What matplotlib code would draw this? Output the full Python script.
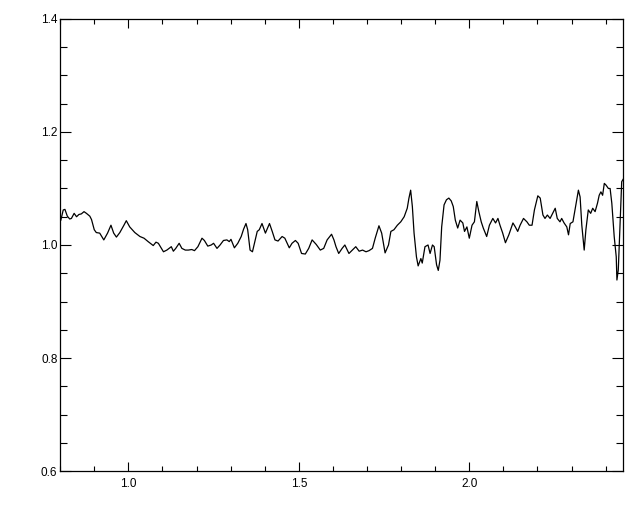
import matplotlib
matplotlib.use("Agg")
import matplotlib.pyplot as plt
from matplotlib.ticker import MultipleLocator

# wavelength (x) and normalised flux (y)
wave = [
    0.802, 0.809, 0.814, 0.821, 0.828, 0.833, 0.841, 0.848, 0.855, 0.862,
    0.870, 0.877, 0.887, 0.892, 0.900, 0.906, 0.916, 0.928, 0.939, 0.949,
    0.957, 0.965, 0.975, 0.987, 0.994, 1.004, 1.019, 1.034, 1.046, 1.058,
    1.073, 1.081, 1.088, 1.103, 1.113, 1.126, 1.132, 1.139, 1.149, 1.157,
    1.167, 1.176, 1.186, 1.194, 1.204, 1.216, 1.223, 1.233, 1.243, 1.250,
    1.260, 1.269, 1.279, 1.289, 1.296, 1.301, 1.311, 1.321, 1.331, 1.338,
    1.345, 1.350, 1.357, 1.364, 1.372, 1.378, 1.384, 1.392, 1.402, 1.414,
    1.422, 1.430, 1.439, 1.451, 1.459, 1.466, 1.472, 1.480, 1.490, 1.498,
    1.508, 1.519, 1.529, 1.539, 1.551, 1.563, 1.573, 1.583, 1.596, 1.603,
    1.609, 1.617, 1.627, 1.635, 1.647, 1.657, 1.667, 1.677, 1.687, 1.697,
    1.706, 1.716, 1.724, 1.735, 1.743, 1.753, 1.763, 1.770, 1.779, 1.789,
    1.799, 1.809, 1.818, 1.823, 1.828, 1.833, 1.838, 1.845, 1.850, 1.858,
    1.862, 1.870, 1.879, 1.885, 1.892, 1.897, 1.904, 1.909, 1.914, 1.919,
    1.926, 1.933, 1.940, 1.947, 1.953, 1.959, 1.966, 1.973, 1.981, 1.986,
    1.993, 2.000, 2.008, 2.015, 2.022, 2.028, 2.035, 2.041, 2.051, 2.059,
    2.069, 2.077, 2.084, 2.090, 2.098, 2.106, 2.116, 2.128, 2.135, 2.142,
    2.149, 2.159, 2.169, 2.176, 2.184, 2.191, 2.201, 2.208, 2.216, 2.222,
    2.229, 2.237, 2.247, 2.252, 2.258, 2.266, 2.271, 2.278, 2.286, 2.291,
    2.296, 2.304, 2.310, 2.315, 2.320, 2.325, 2.330, 2.337, 2.342, 2.349,
    2.356, 2.362, 2.369, 2.376, 2.381, 2.386, 2.391, 2.396, 2.401, 2.408,
    2.413, 2.418, 2.425, 2.431, 2.433, 2.437, 2.440, 2.444, 2.447, 2.455,
]
flux = [
    1.044, 1.062, 1.063, 1.051, 1.046, 1.047, 1.056, 1.050, 1.054, 1.055,
    1.059, 1.056, 1.051, 1.045, 1.027, 1.022, 1.021, 1.009, 1.021, 1.035,
    1.021, 1.014, 1.022, 1.035, 1.043, 1.032, 1.022, 1.015, 1.012, 1.006,
    0.999, 1.005, 1.003, 0.988, 0.991, 0.997, 0.989, 0.994, 1.003, 0.994,
    0.991, 0.991, 0.992, 0.990, 0.997, 1.012, 1.008, 0.998, 1.000, 1.003,
    0.994, 1.000, 1.008, 1.009, 1.006, 1.010, 0.995, 1.003, 1.015, 1.028,
    1.038, 1.027, 0.991, 0.988, 1.009, 1.024, 1.027, 1.038, 1.021, 1.038,
    1.024, 1.009, 1.007, 1.015, 1.012, 1.003, 0.995, 1.003, 1.008, 1.003,
    0.985, 0.984, 0.994, 1.009, 1.001, 0.991, 0.994, 1.009, 1.019, 1.009,
    0.997, 0.985, 0.994, 1.000, 0.985, 0.991, 0.997, 0.989, 0.991, 0.988,
    0.990, 0.994, 1.012, 1.034, 1.021, 0.986, 1.000, 1.024, 1.027, 1.035,
    1.041, 1.050, 1.065, 1.083, 1.097, 1.068, 1.021, 0.979, 0.963, 0.976,
    0.968, 0.997, 1.000, 0.985, 1.000, 0.997, 0.965, 0.955, 0.973, 1.032,
    1.071, 1.080, 1.083, 1.078, 1.068, 1.044, 1.030, 1.044, 1.039, 1.024,
    1.032, 1.012, 1.035, 1.041, 1.077, 1.059, 1.041, 1.030, 1.015, 1.035,
    1.047, 1.039, 1.047, 1.035, 1.021, 1.004, 1.018, 1.039, 1.032, 1.024,
    1.035, 1.047, 1.041, 1.035, 1.035, 1.062, 1.087, 1.083, 1.053, 1.047,
    1.053, 1.047, 1.059, 1.065, 1.047, 1.041, 1.047, 1.039, 1.032, 1.018,
    1.038, 1.041, 1.062, 1.080, 1.097, 1.085, 1.035, 0.991, 1.027, 1.062,
    1.056, 1.065, 1.059, 1.074, 1.088, 1.094, 1.088, 1.109, 1.106, 1.100,
    1.100, 1.074, 1.015, 0.979, 0.938, 0.956, 1.003, 1.062, 1.112, 1.120,
]

X_TICKS = [1.0, 1.5, 2.0]
Y_TICKS = [0.6, 0.8, 1.0, 1.2, 1.4]

plt.rcParams["font.family"] = ["Liberation Sans", "DejaVu Sans"]

fig = plt.figure(figsize=(6.4, 5.12), dpi=100)
ax = fig.add_axes([0.094, 0.080, 0.879, 0.883])

ax.plot(wave, flux, color="black", lw=0.9)

ax.set_xlim(0.8, 2.45)
ax.set_ylim(0.6, 1.4)
ax.set_xticks(X_TICKS)
ax.set_xticklabels([f"{v:.1f}" for v in X_TICKS])
ax.set_yticks(Y_TICKS)
ax.set_yticklabels([f"{v:.1f}" for v in Y_TICKS])
ax.xaxis.set_minor_locator(MultipleLocator(0.1))
ax.yaxis.set_minor_locator(MultipleLocator(0.05))

# IDL-style box: inward ticks on all four sides
ax.tick_params(which="both", direction="in", top=True, right=True,
               width=0.8, labelsize=8.5, colors="black")
ax.tick_params(axis="x", which="major", length=6.5, pad=5)
ax.tick_params(axis="x", which="minor", length=3.6)
ax.tick_params(axis="y", which="major", length=8, pad=2)
ax.tick_params(axis="y", which="minor", length=5)
for spine in ax.spines.values():
    spine.set_linewidth(0.9)

fig.savefig("out.png", dpi=100, facecolor="white")
